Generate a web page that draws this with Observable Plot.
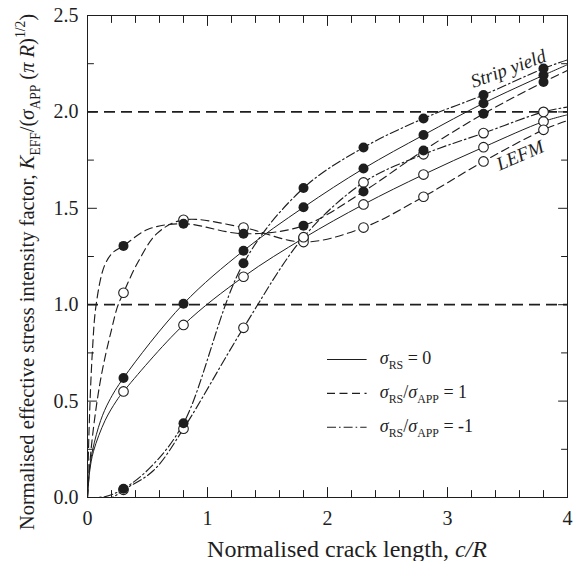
<!DOCTYPE html>
<html>
<head>
<meta charset="utf-8">
<script src="https://cdn.jsdelivr.net/npm/d3@7"></script>
<script src="https://cdn.jsdelivr.net/npm/@observablehq/plot@0.6"></script>
<style>
  body { margin: 0; background: #fff; }
  svg { display: block; }
</style>
</head>
<body>
<div id="chart"></div>
<script>
// Normalised crack lengths at which K_EFF was evaluated
const crackLength = [0.3, 0.8, 1.3, 1.8, 2.3, 2.8, 3.3, 3.8];

// sigma_RS = 0
const stripYieldZero = [0.62, 1.005, 1.28, 1.505, 1.706, 1.88, 2.045, 2.19];
const lefmZero = [0.55, 0.895, 1.145, 1.345, 1.52, 1.675, 1.817, 1.95];
// sigma_RS / sigma_APP = 1
const stripYieldTension = [1.305, 1.42, 1.368, 1.41, 1.587, 1.80, 1.99, 2.155];
const lefmTension = [1.062, 1.44, 1.40, 1.325, 1.40, 1.56, 1.743, 1.907];
// sigma_RS / sigma_APP = -1
const stripYieldCompression = [0.045, 0.385, 1.215, 1.605, 1.815, 1.966, 2.088, 2.225];
const lefmCompression = [0.04, 0.357, 0.88, 1.35, 1.634, 1.78, 1.89, 2.0];

// Extra points along each curve (crack tip region, between results, at c/R = 4)
const pathStripYieldZero = [[0, 0], [0.015, 0.14], [0.044, 0.25], [0.11, 0.40], [0.18, 0.50], [4, 2.245]];
const pathLefmZero = [[0, 0], [0.017, 0.13], [0.05, 0.24], [0.147, 0.40], [0.24, 0.50], [4, 1.985]];
const pathStripYieldTension = [[0, 0], [0.012, 0.33], [0.04, 0.75], [0.072, 1.0], [0.14, 1.2], [0.21, 1.27], [0.5, 1.39], [4, 2.215]];
const pathLefmTension = [[0, 0], [0.03, 0.25], [0.08, 0.5], [0.13, 0.68], [0.2, 0.87], [0.25, 0.99], [0.42, 1.22], [0.58, 1.37], [4, 1.955]];
const pathStripYieldCompression = [[0, 0], [0.15, 0.005], [0.53, 0.16], [4, 2.27]];
const pathLefmCompression = [[0, 0], [0.2, 0.0], [0.55, 0.14], [4, 2.025]];

// Axis ticks
const xTickLabels = [0, 1, 2, 3, 4];
const xMinorTicks = [0.2, 0.4, 0.6, 0.8, 1.2, 1.4, 1.6, 1.8, 2.2, 2.4, 2.6, 2.8, 3.2, 3.4, 3.6, 3.8];
const yTickLabels = [0, 0.5, 1, 1.5, 2, 2.5];
const yMinorTicks = [0.25, 0.75, 1.25, 1.75, 2.25];
const referenceLevels = [1, 2];

// Legend entries (position in data units)
const legendY = [0.716, 0.54, 0.364];
const legendX = [2.0, 2.33, 2.44];

const ink = "#1e1e1e";
const serif = "'Liberation Serif', 'DejaVu Serif', serif";
const dashes = {solid: null, dashed: "8,4.5", dashdot: "9,3,1.6,3"};
const legendStyles = [dashes.solid, dashes.dashed, dashes.dashdot];

const series = [
  {case: "solid", model: "sy", values: stripYieldZero, path: pathStripYieldZero},
  {case: "solid", model: "lefm", values: lefmZero, path: pathLefmZero},
  {case: "dashed", model: "sy", values: stripYieldTension, path: pathStripYieldTension},
  {case: "dashed", model: "lefm", values: lefmTension, path: pathLefmTension},
  {case: "dashdot", model: "sy", values: stripYieldCompression, path: pathStripYieldCompression},
  {case: "dashdot", model: "lefm", values: lefmCompression, path: pathLefmCompression}
];

const pointRows = series.flatMap((s, k) =>
  crackLength.map((c, i) => ({id: k, case: s.case, model: s.model, x: c, y: s.values[i]})));

const lineMarks = series.map((s, k) => {
  const rows = pointRows.filter(d => d.id === k).map(d => ({x: d.x, y: d.y}))
    .concat(s.path.map(([x, y]) => ({x, y})))
    .sort((a, b) => a.x - b.x);
  return Plot.line(rows, {
    x: "x", y: "y", curve: "catmull-rom", stroke: ink,
    strokeWidth: s.case === "solid" ? 1 : 1.15,
    strokeDasharray: dashes[s.case], clip: true
  });
});

const legendMarks = legendY.map((y, i) =>
  Plot.ruleY([y], {x1: legendX[0], x2: legendX[1], stroke: ink, strokeWidth: 1.1, strokeDasharray: legendStyles[i]}));

const tickShape = {draw(context, l) { context.moveTo(0, 0); context.lineTo(0, -l); }};
const ticks = (data, o) => Plot.vector(data, {anchor: "start", shape: tickShape, stroke: ink, strokeWidth: 1, ...o});

const chart = Plot.plot({
  width: 579,
  height: 561,
  marginLeft: 87,
  marginRight: 12,
  marginTop: 15,
  marginBottom: 64,
  style: {fontFamily: serif, color: ink, background: "#fff"},
  x: {domain: [0, 4]},
  y: {domain: [0, 2.5]},
  marks: [
    Plot.ruleY(referenceLevels, {stroke: ink, strokeWidth: 1.8, strokeDasharray: "11,6"}),
    ...lineMarks,
    Plot.dot(pointRows.filter(d => d.model === "lefm"), {x: "x", y: "y", r: 4.8, fill: "white", stroke: ink, strokeWidth: 1.1}),
    Plot.dot(pointRows.filter(d => d.model === "sy"), {x: "x", y: "y", r: 5, fill: ink}),
    // inward ticks on all four sides
    ticks(xTickLabels, {x: d => d, y: 0, length: 10, rotate: 0}),
    ticks(xMinorTicks, {x: d => d, y: 0, length: 7, rotate: 0}),
    ticks(xTickLabels, {x: d => d, y: 2.5, length: 10, rotate: 180}),
    ticks(xMinorTicks, {x: d => d, y: 2.5, length: 7, rotate: 180}),
    ticks(yTickLabels, {x: 0, y: d => d, length: 9, rotate: 90}),
    ticks(yMinorTicks, {x: 0, y: d => d, length: 6, rotate: 90}),
    ticks(yTickLabels, {x: 4, y: d => d, length: 9, rotate: -90}),
    ticks(yMinorTicks, {x: 4, y: d => d, length: 6, rotate: -90}),
    Plot.frame({stroke: ink, strokeWidth: 1}),
    Plot.axisX(xTickLabels, {anchor: "bottom", tickSize: 0, tickPadding: 13, fontSize: 20, label: null, tickFormat: d => String(d)}),
    Plot.axisY(yTickLabels, {anchor: "left", tickSize: 0, tickPadding: 9, fontSize: 20, label: null, tickFormat: d3.format(".1f")}),
    ...legendMarks,
    // model annotations
    Plot.text(["Strip yield"], {x: 3.525, y: 2.194, text: d => d, rotate: -20, lineAnchor: "bottom", textAnchor: "middle", fontStyle: "italic", fontSize: 19, fill: ink}),
    Plot.text(["LEFM"], {x: 3.625, y: 1.745, text: d => d, rotate: -23, lineAnchor: "bottom", textAnchor: "middle", fontStyle: "italic", fontSize: 19, fill: ink})
  ]
});

document.getElementById("chart").appendChild(chart);

// Rich text (italics, subscripts, superscripts) for axis titles and legend
function rich(text, parts, size) {
  let shift = 0;
  for (const p of parts) {
    const target = p.sub ? 0.28 * size : p.sup ? -0.42 * size : 0;
    const ts = text.append("tspan").text(p.t).attr("dy", target - shift);
    shift = target;
    if (p.sub || p.sup) ts.attr("font-size", size * 0.66);
    if (p.i) ts.attr("font-style", "italic");
  }
}

const svg = d3.select(chart);
const sx = chart.scale("x"), sy = chart.scale("y");
const g = svg.append("g").attr("fill", ink).attr("font-family", serif);

const yTitle = g.append("text")
  .attr("transform", `translate(34,${(sy.apply(0) + sy.apply(2.5)) / 2 + 16}) rotate(-90)`)
  .attr("text-anchor", "middle").attr("font-size", 20.5);
rich(yTitle, [
  {t: "Normalised effective stress intensity factor, "},
  {t: "K", i: true}, {t: "EFF", sub: true}, {t: "/("}, {t: "σ", i: true}, {t: "APP", sub: true},
  {t: " ("}, {t: "π", i: true}, {t: " "}, {t: "R", i: true}, {t: ")"}, {t: "1/2", sup: true}, {t: ")"}
], 20.5);

const xTitle = g.append("text")
  .attr("x", (sx.apply(0) + sx.apply(4)) / 2 + 20).attr("y", 557)
  .attr("text-anchor", "middle").attr("font-size", 24);
rich(xTitle, [{t: "Normalised crack length, "}, {t: "c/R", i: true}], 24);

const legendText = [
  [{t: "σ", i: true}, {t: "RS", sub: true}, {t: " = 0"}],
  [{t: "σ", i: true}, {t: "RS", sub: true}, {t: "/"}, {t: "σ", i: true}, {t: "APP", sub: true}, {t: " = 1"}],
  [{t: "σ", i: true}, {t: "RS", sub: true}, {t: "/"}, {t: "σ", i: true}, {t: "APP", sub: true}, {t: " = -1"}]
];
legendText.forEach((parts, i) => {
  const t = g.append("text").attr("text-anchor", "start")
    .attr("x", sx.apply(legendX[2])).attr("y", sy.apply(legendY[i]) + 5).attr("font-size", 18);
  rich(t, parts, 18);
});
</script>
</body>
</html>
